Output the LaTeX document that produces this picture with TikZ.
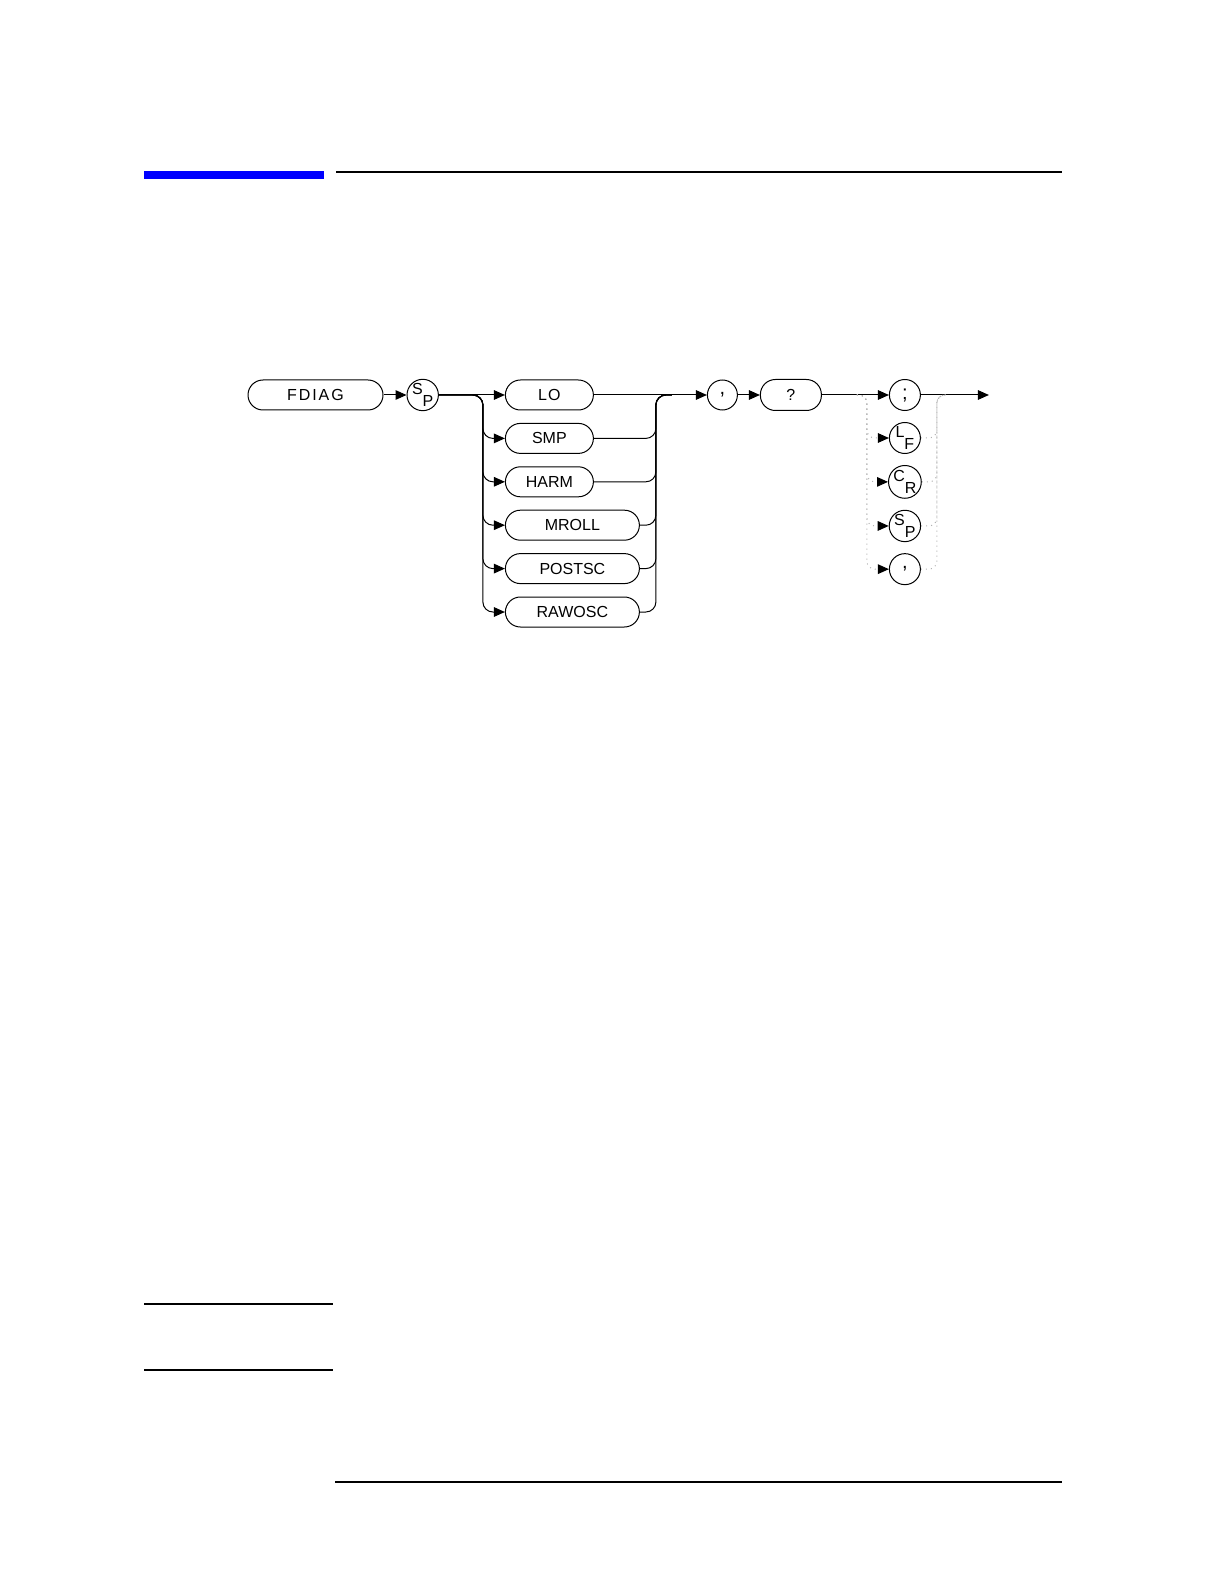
\documentclass[tikz,border=0pt]{standalone}
\usepackage{fontspec}
\setmainfont{Liberation Sans}
\usetikzlibrary{arrows.meta,positioning}

\newcommand{\twoletter}[2]{\raisebox{3pt}{#1}\raisebox{-3pt}{#2}}

\tikzset{
  box/.style={draw, line width=0.5pt, rectangle, rounded corners=7.5pt, minimum height=15pt, inner sep=0pt, font=\fontsize{8}{9.6}\selectfont},
  term/.style={draw, line width=0.5pt, circle, minimum size=15.5pt, inner sep=0pt, font=\fontsize{8}{9.6}\selectfont},
  punct/.style={font=\fontsize{10}{12}\selectfont},
  flow/.style={line width=0.5pt, -{Triangle[length=5.5pt,width=4.8pt]}},
  plain/.style={line width=0.5pt},
  opt/.style={line width=0.5pt, gray!60, dotted, -{Triangle[length=5.5pt,width=4.8pt,black]}},
  optback/.style={line width=0.5pt, gray!60, dotted}
}

\begin{document}
\begin{tikzpicture}
	\useasboundingbox (0,0) rectangle (612pt,-791pt);
	
	% page rules
	\fill[blue] (72pt,-85.4pt) rectangle (162pt,-89.5pt);
	\draw[line width=1pt] (168pt,-85.8pt) -- (531pt,-85.8pt);
	\draw[line width=0.6pt] (72pt,-652pt) -- (166.5pt,-652pt);
	\draw[line width=0.6pt] (72pt,-685pt) -- (166.5pt,-685pt);
	\draw[line width=1pt] (167.5pt,-741pt) -- (531pt,-741pt);
	
	% command and branches
	\node[box, minimum width=67.5pt] (fdiag) at (157.75pt,-197.5pt) {\addfontfeature{LetterSpace=12}FDIAG};
	\node[term, right=11.5pt of fdiag] (sp) {\twoletter{S}{P}};
	\node[box, minimum width=44pt, right=33pt of sp] (lo) {\addfontfeature{LetterSpace=8}LO};
	\node[box, minimum width=44pt, below=6.2pt of lo.south west, anchor=north west] (smp) {SMP};
	\node[box, minimum width=44pt, below=6.2pt of smp.south west, anchor=north west] (harm) {HARM};
	\node[box, minimum width=67pt, below=6.2pt of harm.south west, anchor=north west] (mroll) {MROLL};
	\node[box, minimum width=67pt, below=6.2pt of mroll.south west, anchor=north west] (postsc) {POSTSC};
	\node[box, minimum width=67pt, below=6.2pt of postsc.south west, anchor=north west] (rawosc) {RAWOSC};
	\coordinate[right=22pt of sp] (split);
	\coordinate[right=31pt of lo] (merge);
	
	% query and terminators
	\node[term, punct, minimum size=15pt, right=56.5pt of lo] (comma) {,};
	\node[box, minimum width=30.5pt, minimum height=15.5pt, right=11pt of comma] (qm) {?};
	\node[term, punct, right=33.5pt of qm] (semi) {;};
	\node[term, below=5.5pt of semi] (lf) {\twoletter{L}{F}};
	\node[term, below=5.5pt of lf] (cr) {\twoletter{C}{R}};
	\node[term, below=5.5pt of cr] (sp2) {\twoletter{S}{P}};
	\node[term, punct, below=5.5pt of sp2] (comma2) {,};
	\coordinate[right=34pt of semi] (out);
	\coordinate[left=11pt of semi] (dl);
	\coordinate[right=8pt of semi] (dr);
	
	\draw[flow] (fdiag) -- (sp);
	\draw[flow] (sp) -- (lo);
	\draw[flow, rounded corners=5pt] (sp.east) -| (split |- smp) -- (smp.west);
	\draw[flow, rounded corners=5pt] (sp.east) -| (split |- harm) -- (harm.west);
	\draw[flow, rounded corners=5pt] (sp.east) -| (split |- mroll) -- (mroll.west);
	\draw[flow, rounded corners=5pt] (sp.east) -| (split |- postsc) -- (postsc.west);
	\draw[flow, rounded corners=5pt] (sp.east) -| (split |- rawosc) -- (rawosc.west);
	
	\draw[flow] (lo) -- (comma);
	\draw[plain, rounded corners=5pt] (smp.east) -| (merge |- lo) -- ++(8pt,0);
	\draw[plain, rounded corners=5pt] (harm.east) -| (merge |- lo) -- ++(8pt,0);
	\draw[plain, rounded corners=5pt] (mroll.east) -| (merge |- lo) -- ++(8pt,0);
	\draw[plain, rounded corners=5pt] (postsc.east) -| (merge |- lo) -- ++(8pt,0);
	\draw[plain, rounded corners=5pt] (rawosc.east) -| (merge |- lo) -- ++(8pt,0);
	
	\draw[flow] (comma) -- (qm);
	\draw[flow] (qm) -- (semi);
	\draw[flow] (semi) -- (out);
	
	\draw[opt, rounded corners=4pt] ([xshift=-5pt]dl) -| (dl |- lf) -- (lf.west);
	\draw[opt, rounded corners=4pt] ([xshift=-5pt]dl) -| (dl |- cr) -- (cr.west);
	\draw[opt, rounded corners=4pt] ([xshift=-5pt]dl) -| (dl |- sp2) -- (sp2.west);
	\draw[opt, rounded corners=4pt] ([xshift=-5pt]dl) -| (dl |- comma2) -- (comma2.west);
	\draw[optback, rounded corners=4pt] (lf.east) -| (dr |- semi) -- ++(5pt,0);
	\draw[optback, rounded corners=4pt] (cr.east) -| (dr |- semi) -- ++(5pt,0);
	\draw[optback, rounded corners=4pt] (sp2.east) -| (dr |- semi) -- ++(5pt,0);
	\draw[optback, rounded corners=4pt] (comma2.east) -| (dr |- semi) -- ++(5pt,0);
\end{tikzpicture}
\end{document}
